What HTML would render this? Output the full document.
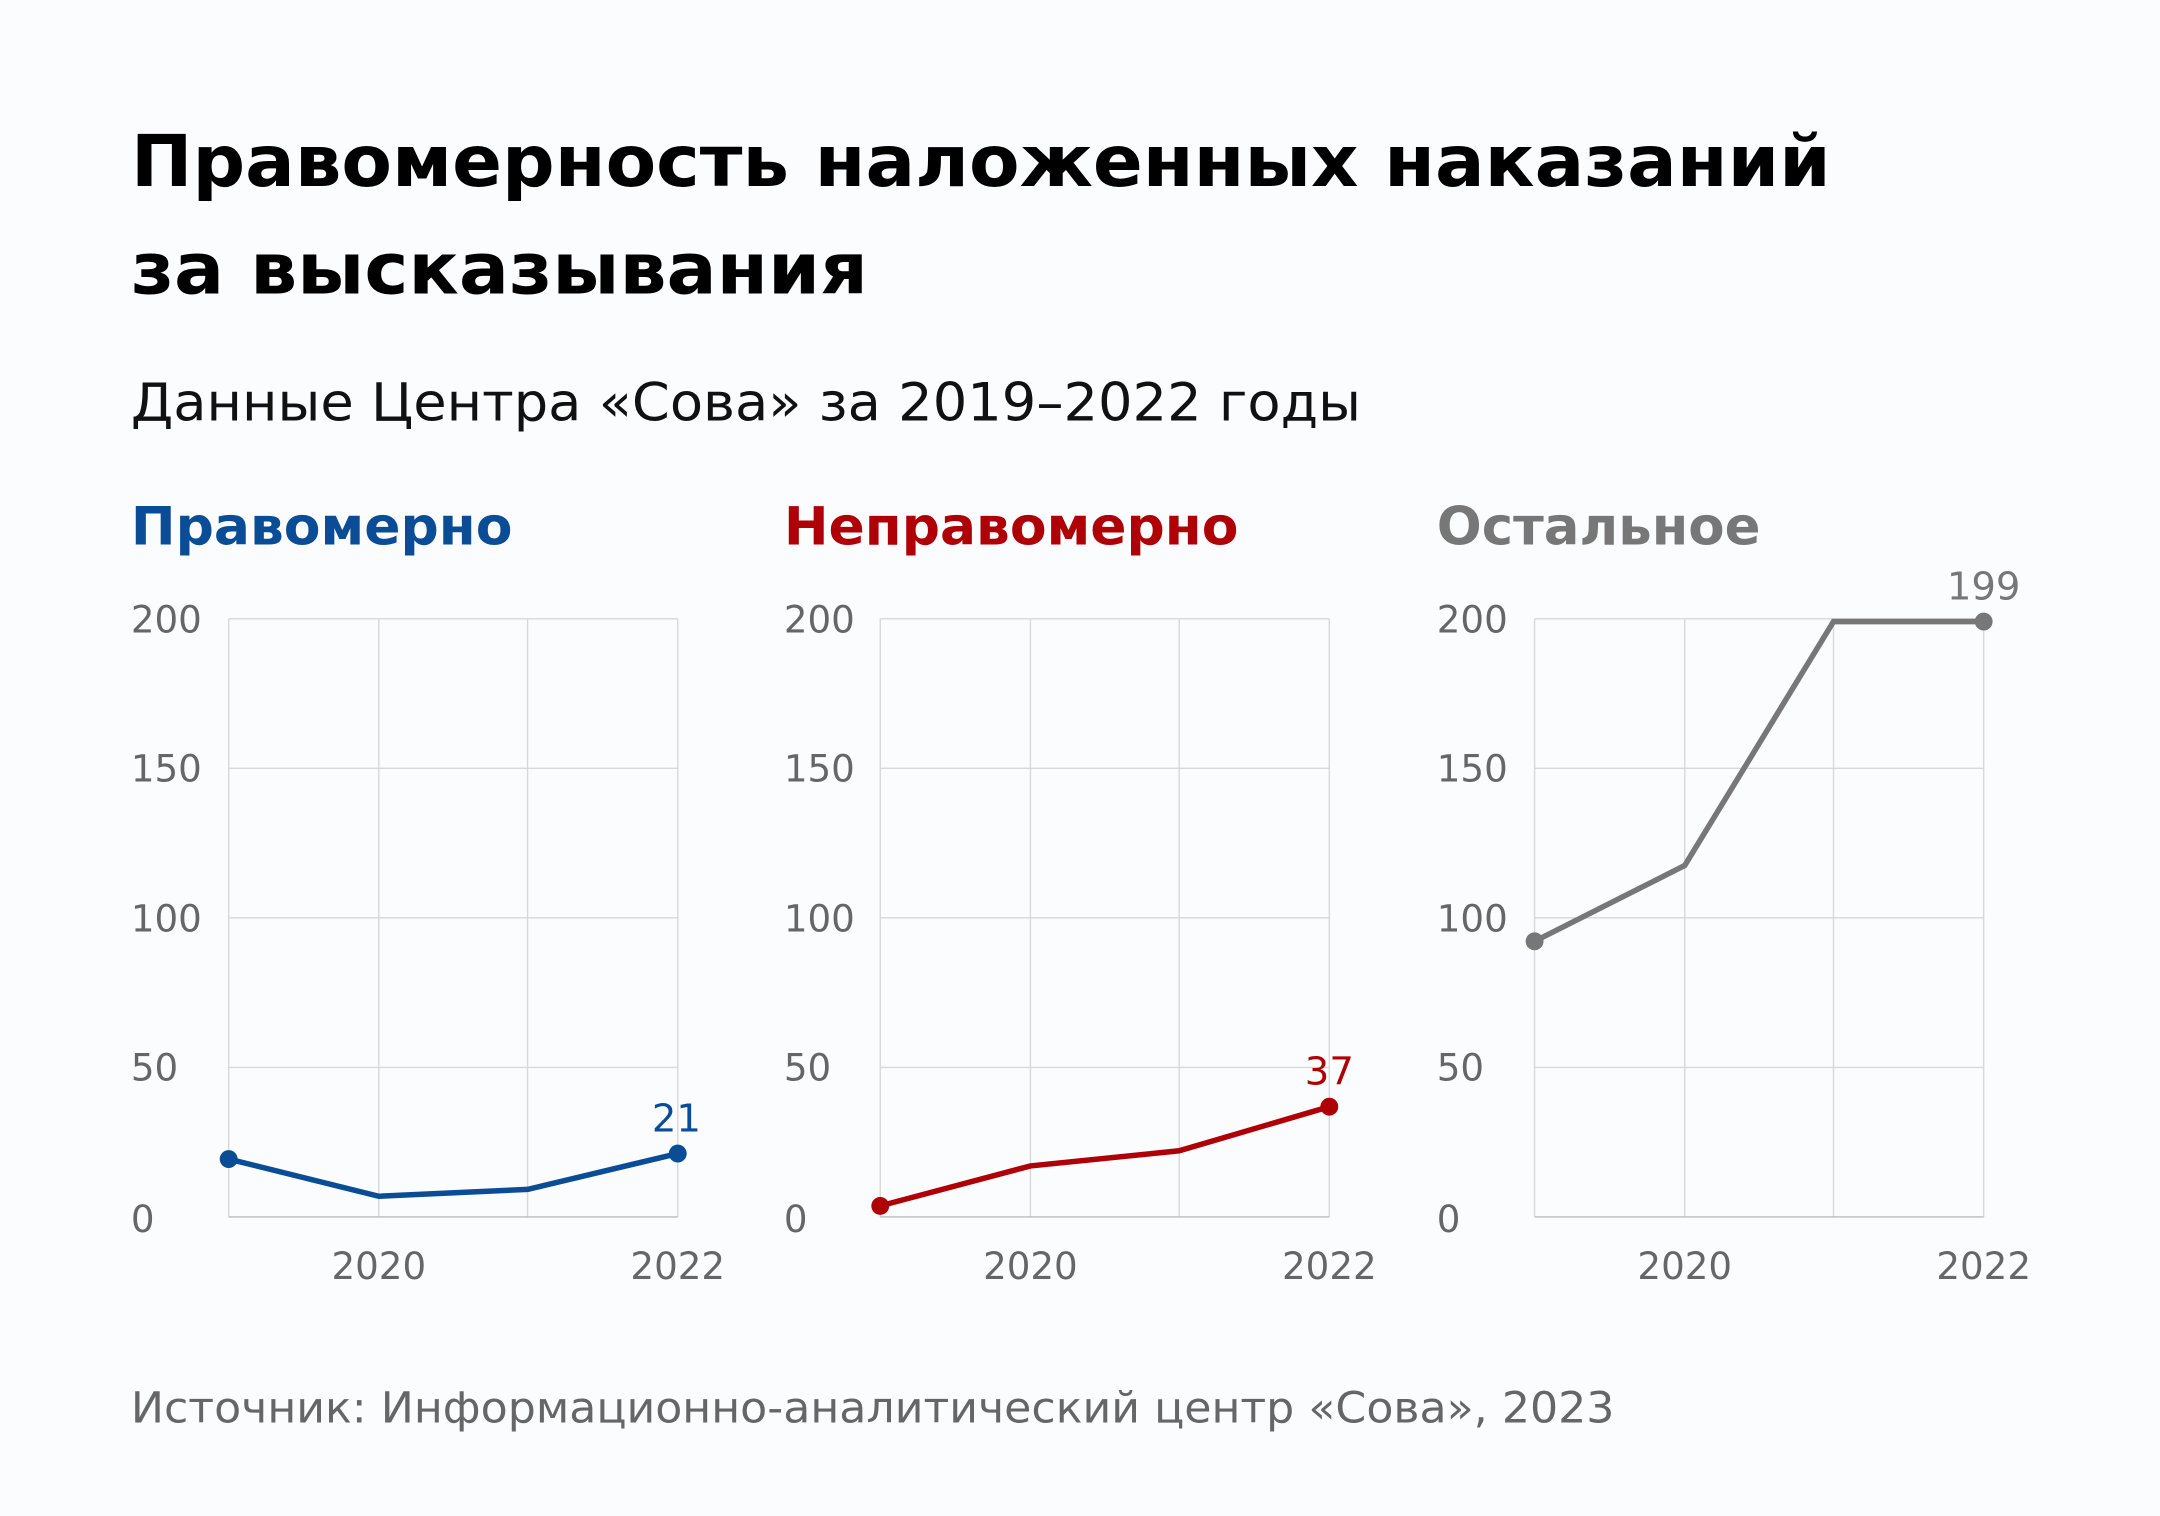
<!DOCTYPE html>
<html><head><meta charset="utf-8"><style>
html,body{margin:0;padding:0;background:#fbfcfe;}
svg{display:block;}
text{font-family:"DejaVu Sans","Liberation Sans",sans-serif;}
</style></head><body>
<svg width="2160" height="1516" viewBox="0 0 1568 1100" preserveAspectRatio="none" xmlns="http://www.w3.org/2000/svg">
<rect width="1568" height="1100" fill="#fbfcfe"/>
<text x="95" y="135" font-size="52" font-weight="bold" fill="#000" textLength="1234" lengthAdjust="spacingAndGlyphs">Правомерность наложенных наказаний</text>
<text x="95" y="213" font-size="52" font-weight="bold" fill="#000" textLength="535" lengthAdjust="spacingAndGlyphs">за высказывания</text>
<text x="95" y="305" font-size="38" fill="#111" textLength="893" lengthAdjust="spacingAndGlyphs">Данные Центра «Сова» за 2019–2022 годы</text>
<text x="95" y="395" font-size="38" font-weight="bold" fill="#0a4c96" textLength="277" lengthAdjust="spacingAndGlyphs">Правомерно</text>
<text x="569" y="395" font-size="38" font-weight="bold" fill="#b00007" textLength="330" lengthAdjust="spacingAndGlyphs">Неправомерно</text>
<text x="1043" y="395" font-size="38" font-weight="bold" fill="#777" textLength="235" lengthAdjust="spacingAndGlyphs">Остальное</text>
<g font-size="27" fill="#666">
<g stroke="#d8d8d8" stroke-width="1" fill="none">
<path d="M166 449V883M275 449V883M383 449V883M492 449V883M166 449H492M166 557.5H492M166 666H492M166 774.5H492"/>
<path d="M639 449V883M748 449V883M856 449V883M965 449V883M639 449H965M639 557.5H965M639 666H965M639 774.5H965"/>
<path d="M1114 449V883M1223 449V883M1331 449V883M1440 449V883M1114 449H1440M1114 557.5H1440M1114 666H1440M1114 774.5H1440"/>
</g>
<path d="M166 883H492M639 883H965M1114 883H1440" stroke="#bbb" stroke-width="1"/>
<g>
<text x="95" y="459">200</text><text x="95" y="567">150</text><text x="95" y="676">100</text><text x="95" y="784">50</text><text x="95" y="894">0</text>
<text x="569" y="459">200</text><text x="569" y="567">150</text><text x="569" y="676">100</text><text x="569" y="784">50</text><text x="569" y="894">0</text>
<text x="1043" y="459">200</text><text x="1043" y="567">150</text><text x="1043" y="676">100</text><text x="1043" y="784">50</text><text x="1043" y="894">0</text>
</g>
<g text-anchor="middle">
<text x="275" y="928">2020</text><text x="492" y="928">2022</text>
<text x="748" y="928">2020</text><text x="965" y="928">2022</text>
<text x="1223" y="928">2020</text><text x="1440" y="928">2022</text>
</g>
</g>
<polyline points="166,841 275,868 383,863 492,837" fill="none" stroke="#0a4c96" stroke-width="4"/>
<circle cx="166" cy="841" r="6.5" fill="#0a4c96"/><circle cx="492" cy="837" r="6.5" fill="#0a4c96"/>
<text x="491" y="821" font-size="28" fill="#0a4c96" text-anchor="middle">21</text>
<polyline points="639,875 748,846 856,835 965,803" fill="none" stroke="#b00007" stroke-width="4"/>
<circle cx="639" cy="875" r="6.5" fill="#b00007"/><circle cx="965" cy="803" r="6.5" fill="#b00007"/>
<text x="965" y="787" font-size="28" fill="#b00007" text-anchor="middle">37</text>
<polyline points="1114,683 1223,628 1331,451 1440,451" fill="none" stroke="#777" stroke-width="4"/>
<circle cx="1114" cy="683" r="6.5" fill="#777"/><circle cx="1440" cy="451" r="6.5" fill="#777"/>
<text x="1440" y="435" font-size="28" fill="#777" text-anchor="middle">199</text>
<text x="95" y="1032" font-size="31" fill="#666" textLength="1077" lengthAdjust="spacingAndGlyphs">Источник: Информационно-аналитический центр «Сова», 2023</text>
</svg>
</body></html>
